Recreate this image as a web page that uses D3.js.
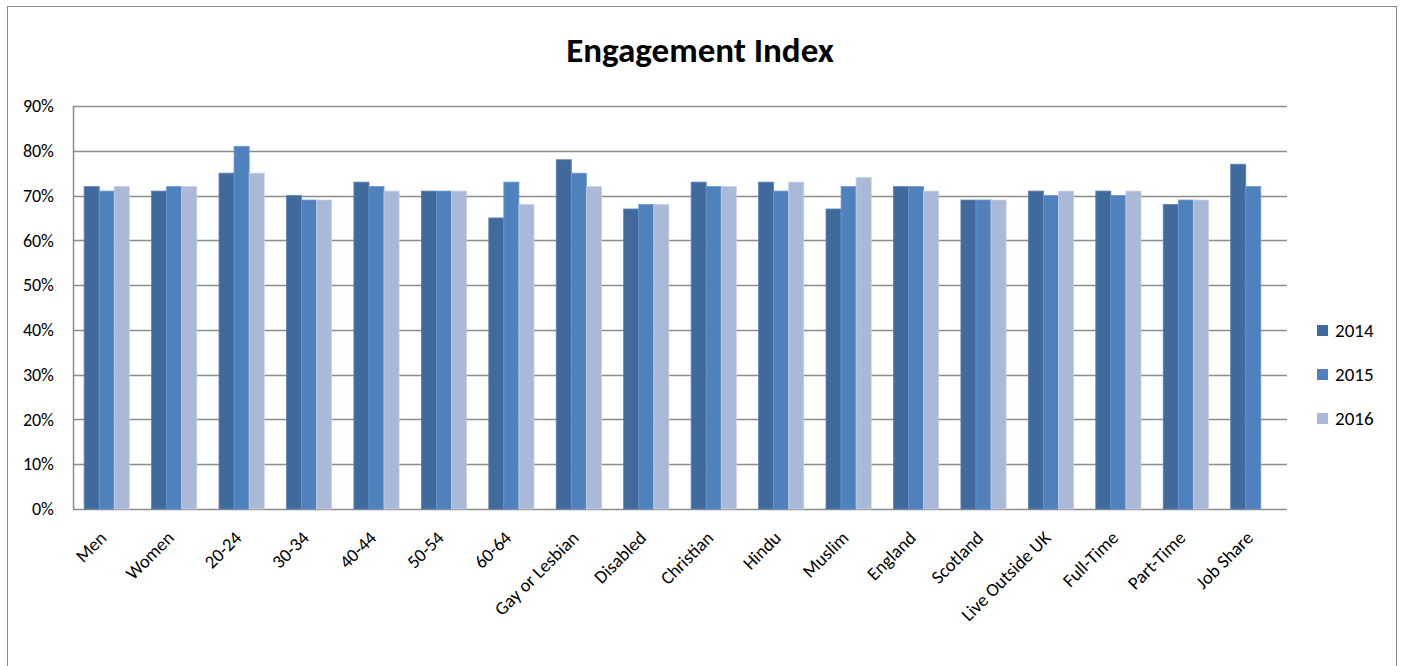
<!DOCTYPE html>
<html><head><meta charset="utf-8">
<script src="https://cdn.jsdelivr.net/npm/d3@7"></script>
<style>body{margin:0;background:#fff;} svg{display:block;}</style>
</head><body>
<script>
const categories = ["Men","Women","20-24","30-34","40-44","50-54","60-64","Gay or Lesbian","Disabled","Christian","Hindu","Muslim","England","Scotland","Live Outside UK","Full-Time","Part-Time","Job Share"];
const seriesNames = ["2014","2015","2016"];
const v2014 = [72,71,75,70,73,71,65,78,67,73,73,67,72,69,71,71,68,77];
const v2015 = [71,72,81,69,72,71,73,75,68,72,71,72,72,69,70,70,69,72];
const v2016 = [72,72,75,69,71,71,68,72,68,72,73,74,71,69,71,71,69,null];
const yTicks = [0,10,20,30,40,50,60,70,80,90];
const colors = ["#416A9C","#4F81BD","#AAB9D7"];
const edge = ["#5A82B4","#6A96CC","#C3CFE6"];

const W=1401,H=666;
const svg=d3.select("body").append("svg").attr("width",W).attr("height",H);
svg.append("rect").attr("x",7.5).attr("y",6.5).attr("width",1389).attr("height",670).attr("fill","#fff").attr("stroke","#8c8c8c");

const font="Carlito, Lato, 'Open Sans', sans-serif";
const L=73,R=1287,T=106,B=509;
const x=d3.scaleBand().domain(categories).range([L,R]).paddingInner(0.33).paddingOuter(0.165);
const x1=d3.scaleBand().domain(seriesNames).range([0,x.bandwidth()]);
const y=d3.scaleLinear().domain([0,90]).range([B,T]);

svg.append("text").attr("x",700).attr("y",62).attr("text-anchor","middle").attr("font-family",font).attr("font-weight","bold").attr("font-size",35).attr("fill","#000").text("Engagement Index");

// grid
svg.append("g").selectAll("line").data(yTicks).join("line")
 .attr("x1",L).attr("x2",R).attr("y1",d=>Math.round(y(d))+0.5).attr("y2",d=>Math.round(y(d))+0.5)
 .attr("stroke","#8c8c8c").attr("stroke-width",1.5);
svg.append("line").attr("x1",L+0.5).attr("x2",L+0.5).attr("y1",T).attr("y2",B).attr("stroke","#8c8c8c").attr("stroke-width",1.5);

// y labels
const yAxis=d3.axisLeft(y).tickValues(yTicks).tickSize(0).tickPadding(19).tickFormat(d=>d+"%");
const gy=svg.append("g").attr("transform",`translate(${L},0)`).call(yAxis);
gy.select(".domain").remove();
gy.selectAll("text").attr("font-family",font).attr("font-size",18).attr("fill","#000");

// bars
const vals=[v2014,v2015,v2016];
seriesNames.forEach((s,si)=>{
  svg.append("g").selectAll("rect").data(categories.map((c,i)=>({c,v:vals[si][i]})).filter(d=>d.v!=null)).join("rect")
   .attr("x",d=>x(d.c)+x1(s)).attr("width",x1.bandwidth())
   .attr("y",d=>y(d.v)).attr("height",d=>B-y(d.v))
   .attr("fill",colors[si]).attr("stroke",edge[si]).attr("stroke-width",0.8);
});

// x labels
const xAxis=d3.axisBottom(x).tickSize(0).tickPadding(0);
const gx=svg.append("g").attr("transform",`translate(0,${B})`).call(xAxis);
gx.select(".domain").remove();
gx.selectAll("text").attr("font-family",font).attr("font-size",18.5).attr("fill","#000")
 .attr("text-anchor","end").attr("dy",0).attr("y",0)
 .attr("transform","translate(1,30) rotate(-45)");

// legend
const lg=svg.append("g");
seriesNames.forEach((s,i)=>{
  const yy=330+i*44;
  lg.append("rect").attr("x",1317).attr("y",yy-5).attr("width",11).attr("height",11).attr("fill",colors[i]);
  lg.append("text").attr("x",1335).attr("y",yy+7).attr("font-family",font).attr("font-size",19).attr("fill","#000").text(s);
});
</script>
</body></html>
